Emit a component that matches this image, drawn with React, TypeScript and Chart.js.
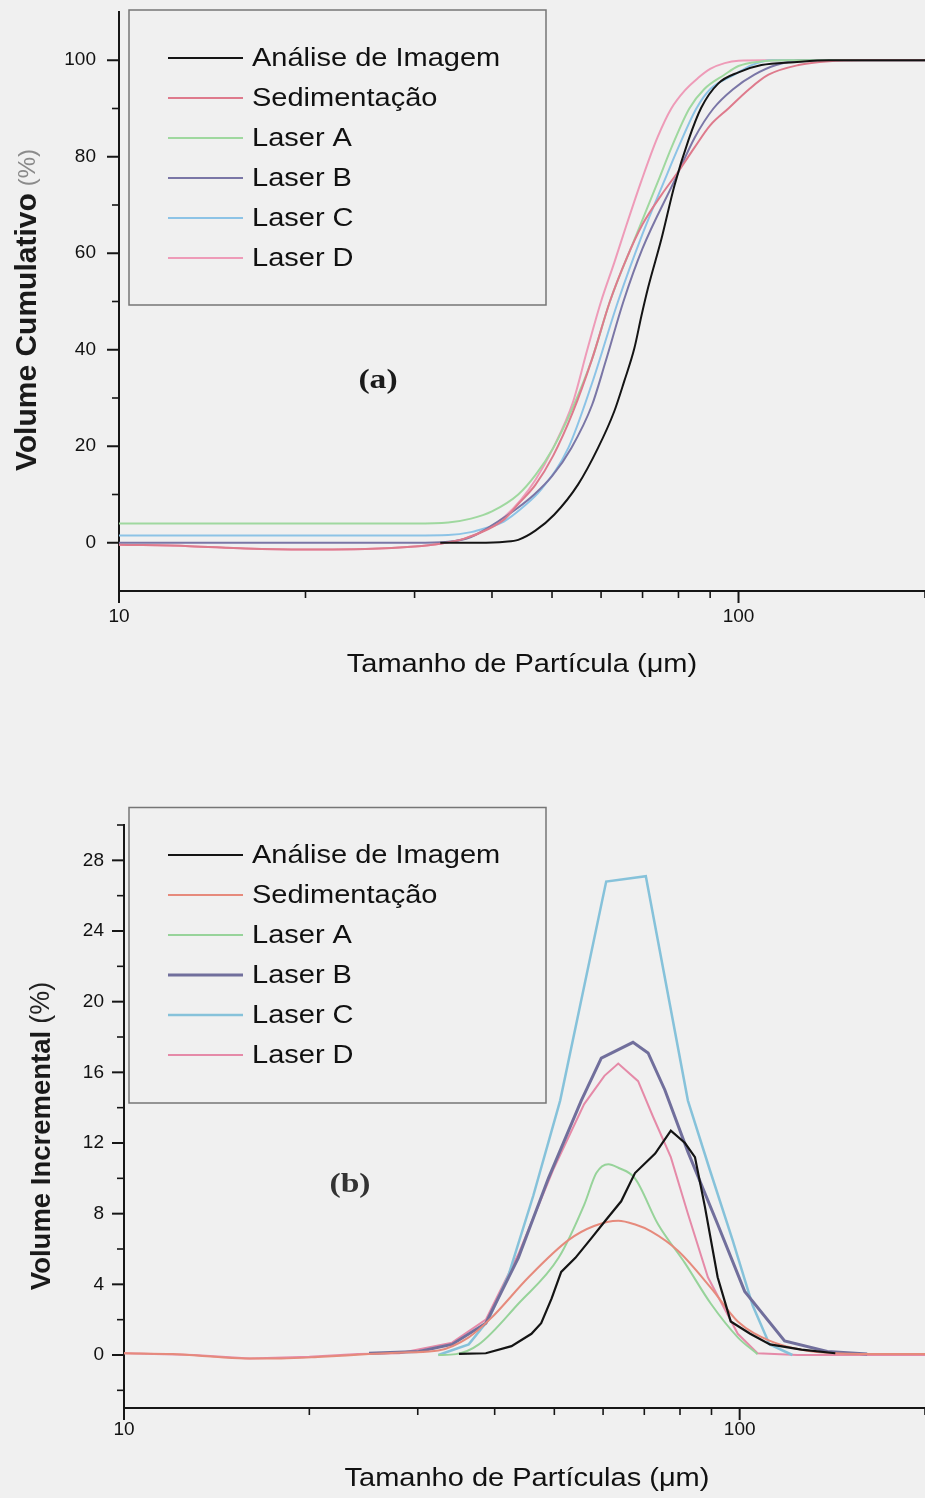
import React, { useEffect, useRef } from 'react';
import { Chart, registerables } from 'chart.js';

Chart.register(...registerables);

const FONT = '"Liberation Sans", Arial, Helvetica, sans-serif';
const SERIF = '"Liberation Serif", "Times New Roman", Times, serif';
const TEXT_STRETCH = 1.16;
const AXIS_COLOR = '#161616';
const PAGE_BG = '#f0f0f0';

const seriesLabels = ['Análise de Imagem', 'Sedimentação', 'Laser A', 'Laser B', 'Laser C', 'Laser D'];

// Particle size axis (µm, logarithmic)
const sizeMajorTicks = [10, 100];
const sizeMinorTicks = [20, 30, 40, 50, 60, 70, 80, 90, 200];

// (a) cumulative volume axis
const cumMajorTicks = [0, 20, 40, 60, 80, 100];
const cumMinorTicks = [10, 30, 50, 70, 90];

// (b) incremental volume axis
const incMajorTicks = [0, 4, 8, 12, 16, 20, 24, 28];
const incMinorTicks = [-2, 2, 6, 10, 14, 18, 22, 26, 30];

// ---------- (a) Volume Cumulativo (%) ----------
const cumImagemSize = [33, 38, 42, 44.1, 47, 50.4, 55.1, 59.3, 63, 65.4, 67.9, 69.7, 71.5, 75.1, 78.8, 83, 87.1, 92.8, 100, 108.9, 123, 140, 200];
const cumImagemVol = [0, 0, 0.2, 0.6, 2.5, 5.8, 12.1, 19.6, 27.2, 33.5, 40.3, 47, 53, 63, 74, 83.4, 90.2, 95.2, 97.5, 99, 99.6, 100, 100];

const cumSedSize = [10, 13, 16, 20, 25, 30, 33, 36, 39.4, 42, 44.1, 47, 50.2, 54, 58, 62, 66, 70, 75, 80, 85, 90, 96.3, 104, 111.8, 125, 140, 160, 200];
const cumSedVol = [-0.4, -0.7, -1.2, -1.4, -1.3, -0.8, -0.2, 0.8, 2.8, 5, 8, 12, 18, 27, 38, 50, 59, 66, 72, 77, 82, 86.5, 90, 94, 97, 99, 99.8, 100, 100];

const cumLaserASize = [10, 20, 30, 34, 37, 40, 44.1, 47, 50.2, 54, 58, 62, 68, 74.2, 78, 83.3, 88, 94.9, 100, 108, 120, 200];
const cumLaserAVol = [4, 4, 4, 4.2, 5, 6.5, 10, 14, 19.6, 28, 38, 50, 63, 75, 82, 90, 94, 97, 98.8, 99.7, 100, 100];

const cumLaserBSize = [10, 20, 30, 34, 37, 40.9, 44, 46.8, 50, 53.7, 58, 61, 65.2, 70, 78.8, 85, 91.1, 98, 106.1, 115, 127, 200];
const cumLaserBVol = [0, 0, 0, 0.2, 1.2, 4.4, 7.2, 10, 13.8, 19.6, 28.5, 37.5, 50, 61, 75, 84, 90, 94, 97, 99, 100, 100];

const cumLaserCSize = [10, 20, 30, 34, 37, 39, 41.8, 45, 48, 53.1, 58, 63.9, 70, 75.9, 80, 85.5, 90, 98.5, 105, 113, 200];
const cumLaserCVol = [1.5, 1.5, 1.5, 1.6, 2.2, 3, 4.4, 7.5, 11, 19.6, 33, 50, 64, 75, 82, 90, 94, 97, 99, 100, 100];

const cumLaserDSize = [10, 13, 16, 20, 25, 30, 33, 36, 39.4, 42, 44.6, 47, 50.2, 54, 57, 60, 63, 66, 69.7, 74, 77.9, 82, 86, 90, 95, 100, 110, 200];
const cumLaserDVol = [-0.4, -0.7, -1.2, -1.4, -1.3, -0.8, -0.2, 0.8, 3, 5.5, 9, 13, 19.6, 29, 40, 50, 58, 66, 75, 84, 90, 93.8, 96.3, 98.2, 99.4, 99.9, 100, 100];

// ---------- (b) Volume Incremental (%) ----------
const incImagemSize = [35, 38.7, 42.6, 45.9, 47.6, 49.5, 51.3, 54.1, 57.4, 60.5, 64.2, 67.6, 72.9, 77.3, 81.5, 84.6, 87.8, 92.1, 96.7, 104, 112, 126, 143];
const incImagemVol = [0.06, 0.1, 0.5, 1.2, 1.8, 3.2, 4.7, 5.5, 6.6, 7.6, 8.7, 10.3, 11.4, 12.7, 12.0, 11.2, 8.4, 4.4, 1.9, 1.2, 0.6, 0.3, 0.1];

const incSedSize = [10, 12, 14, 16, 18, 21, 25, 29, 32.4, 36.3, 39.5, 45.4, 52.7, 58, 63.5, 67.5, 71.8, 79.4, 89.8, 99.3, 112, 126, 143, 180, 200];
const incSedVol = [0.1, 0.05, -0.1, -0.2, -0.2, -0.1, 0.05, 0.15, 0.25, 1.0, 2.1, 4.4, 6.5, 7.3, 7.6, 7.4, 7.0, 5.9, 3.8, 1.9, 0.8, 0.3, 0.1, 0.05, 0.05];

const incLaserASize = [32.4, 34.6, 37.7, 43.7, 50.8, 55.9, 58.5, 61.2, 63.5, 67.6, 73.7, 81.5, 89.8, 99.3, 106.9];
const incLaserAVol = [0, 0.05, 0.6, 2.9, 5.5, 8.5, 10.3, 10.8, 10.6, 10.0, 7.4, 5.2, 2.9, 1.0, 0.05];

const incLaserBSize = [25, 30.1, 34.1, 38.7, 43.7, 48.9, 55.3, 59.6, 67.1, 71.0, 75.6, 82.4, 92.1, 101.9, 118.3, 138.8, 161.1];
const incLaserBVol = [0.1, 0.2, 0.6, 1.8, 5.5, 10, 14.4, 16.8, 17.7, 17.1, 15, 11.5, 7.4, 3.6, 0.8, 0.2, 0.05];

const incLaserCSize = [32.4, 36.3, 39.1, 42.1, 46.2, 51.1, 60.7, 70.4, 82.4, 89.4, 97.4, 105, 111.8, 121.8];
const incLaserCVol = [0, 0.6, 2.0, 4.5, 9.0, 14.4, 26.8, 27.1, 14.4, 10.5, 6.5, 2.8, 0.6, 0];

const incLaserDSize = [10, 13, 16, 20, 24, 28, 34.1, 38.7, 43.7, 49.8, 55.9, 60.3, 63.5, 68.4, 72.3, 77.3, 82.4, 88.8, 99.3, 106.9, 124.1, 200];
const incLaserDVol = [0.1, 0, -0.2, -0.1, 0.05, 0.1, 0.7, 2.0, 5.7, 10.5, 14.2, 15.8, 16.5, 15.5, 13.5, 11.2, 8, 4.4, 1.2, 0.1, 0, 0];

const pts = (xs: number[], ys: number[]) => xs.map((x, i) => ({ x, y: ys[i] }));

type LineStyle = { color: string; width: number; smooth: boolean };

function buildDatasets(sizes: number[][], vols: number[][], styles: LineStyle[]) {
  return seriesLabels.map((label, i) => ({
    label,
    data: pts(sizes[i], vols[i]),
    borderColor: styles[i].color,
    backgroundColor: styles[i].color,
    borderWidth: styles[i].width,
    pointRadius: 0,
    fill: false,
    cubicInterpolationMode: styles[i].smooth ? ('monotone' as const) : ('default' as const),
    tension: 0,
  }));
}

type Decor = {
  yMajor: number[];
  yMinor: number[];
  xTitle: string;
  xTitleX: number;
  xTitleY: number;
  yTitle: string;
  yUnit: string;
  yTitleX: number;
  yTitleY: number;
  yTitleFont: string;
  yUnitFont: string;
  yUnitColor: string;
  box: { left: number; top: number; right: number; bottom: number };
  firstRow: number;
  tag: string;
  tagX: number;
  tagY: number;
  tagColor: string;
};

function drawWideText(ctx: CanvasRenderingContext2D, text: string, x: number, y: number, font: string, color: string, align: CanvasTextAlign, sx: number) {
  ctx.save();
  ctx.translate(x, y);
  ctx.scale(sx, 1);
  ctx.font = font;
  ctx.fillStyle = color;
  ctx.textAlign = align;
  ctx.textBaseline = 'middle';
  ctx.fillText(text, 0, 0);
  ctx.restore();
}

function decorPlugin(d: Decor) {
  return {
    id: 'panelDecor',
    afterDraw(chart: any) {
      const { ctx, chartArea } = chart;
      const xs = chart.scales.x;
      const ys = chart.scales.y;
      const seg = (x1: number, y1: number, x2: number, y2: number, w: number, c: string) => {
        ctx.beginPath();
        ctx.strokeStyle = c;
        ctx.lineWidth = w;
        ctx.moveTo(x1, y1);
        ctx.lineTo(x2, y2);
        ctx.stroke();
      };
      ctx.save();
      ctx.lineCap = 'butt';

      // tick marks on both axes
      for (const v of d.yMajor) {
        const p = ys.getPixelForValue(v);
        seg(chartArea.left - 12, p, chartArea.left, p, 2, AXIS_COLOR);
      }
      for (const v of d.yMinor) {
        const p = ys.getPixelForValue(v);
        seg(chartArea.left - 7, p, chartArea.left, p, 1.6, AXIS_COLOR);
      }
      for (const v of sizeMajorTicks) {
        const p = xs.getPixelForValue(v);
        seg(p, chartArea.bottom, p, chartArea.bottom + 12, 2, AXIS_COLOR);
      }
      for (const v of sizeMinorTicks) {
        const p = xs.getPixelForValue(v);
        seg(p, chartArea.bottom, p, chartArea.bottom + 7, 1.6, AXIS_COLOR);
      }

      // axis titles
      drawWideText(ctx, d.xTitle, d.xTitleX, d.xTitleY, `25px ${FONT}`, '#111', 'center', TEXT_STRETCH);

      ctx.save();
      ctx.translate(d.yTitleX, d.yTitleY);
      ctx.rotate(-Math.PI / 2);
      ctx.textBaseline = 'middle';
      ctx.textAlign = 'left';
      ctx.font = d.yTitleFont;
      const w1 = ctx.measureText(d.yTitle).width;
      ctx.font = d.yUnitFont;
      const w2 = ctx.measureText(d.yUnit).width;
      const gap = 7;
      const start = -(w1 + gap + w2) / 2;
      ctx.font = d.yTitleFont;
      ctx.fillStyle = '#1a1a1a';
      ctx.fillText(d.yTitle, start, 0);
      ctx.font = d.yUnitFont;
      ctx.fillStyle = d.yUnitColor;
      ctx.fillText(d.yUnit, start + w1 + gap, 0);
      ctx.restore();

      // framed legend
      const b = d.box;
      ctx.strokeStyle = '#767676';
      ctx.lineWidth = 1.5;
      ctx.strokeRect(b.left, b.top, b.right - b.left, b.bottom - b.top);
      chart.data.datasets.forEach((ds: any, i: number) => {
        const y = d.firstRow + i * 40;
        seg(168, y, 243, y, ds.borderWidth, ds.borderColor);
        drawWideText(ctx, ds.label, 252, y + 1, `25px ${FONT}`, '#111', 'left', TEXT_STRETCH);
      });

      // panel tag
      drawWideText(ctx, d.tag, d.tagX, d.tagY, `bold 28px ${SERIF}`, d.tagColor, 'center', 1.2);
      ctx.restore();
    },
  };
}

type PanelSpec = {
  padTop: number;
  yWidth: number;
  xHeight: number;
  yMin: number;
  yMax: number;
  yMajor: number[];
  xLabelPad: number;
  yLabelPad: number;
  datasets: any[];
  decor: Decor;
};

function createPanel(canvas: HTMLCanvasElement, p: PanelSpec) {
  return new Chart(canvas, {
    type: 'line',
    data: { datasets: p.datasets },
    options: {
      responsive: false,
      maintainAspectRatio: false,
      animation: false,
      events: [],
      layout: { padding: { top: p.padTop, right: 0, bottom: 0, left: 0 } },
      plugins: { legend: { display: false }, tooltip: { enabled: false } },
      elements: { point: { radius: 0 } },
      scales: {
        x: {
          type: 'logarithmic',
          min: 10,
          max: 200,
          position: 'bottom',
          grid: { display: false, drawTicks: false },
          border: { display: true, color: AXIS_COLOR, width: 2 },
          afterBuildTicks: (s: any) => {
            s.ticks = sizeMajorTicks.map((value) => ({ value }));
          },
          afterFit: (s: any) => {
            s.height = p.xHeight;
            s.paddingLeft = 0;
            s.paddingRight = 0;
          },
          ticks: {
            font: { family: FONT, size: 19 },
            color: '#111',
            padding: p.xLabelPad,
            maxRotation: 0,
            autoSkip: false,
            callback: (v: any) => String(v),
          },
        },
        y: {
          type: 'linear',
          min: p.yMin,
          max: p.yMax,
          grid: { display: false, drawTicks: false },
          border: { display: true, color: AXIS_COLOR, width: 2 },
          afterBuildTicks: (s: any) => {
            s.ticks = p.yMajor.map((value) => ({ value }));
          },
          afterFit: (s: any) => {
            s.width = p.yWidth;
            s.paddingTop = 0;
            s.paddingBottom = 0;
          },
          ticks: {
            font: { family: FONT, size: 19 },
            color: '#111',
            padding: p.yLabelPad,
            autoSkip: false,
            callback: (v: any) => String(v),
          },
        },
      },
    },
    plugins: [decorPlugin(p.decor)],
  } as any);
}

const cumStyles: LineStyle[] = [
  { color: '#141414', width: 2, smooth: true },
  { color: '#de7a8c', width: 2, smooth: true },
  { color: '#9fd89f', width: 2, smooth: true },
  { color: '#7a76a6', width: 2, smooth: true },
  { color: '#8cc3e6', width: 2, smooth: true },
  { color: '#ee9bb8', width: 2, smooth: true },
];

const incStyles: LineStyle[] = [
  { color: '#141414', width: 2.2, smooth: false },
  { color: '#e68a7c', width: 2, smooth: true },
  { color: '#97d39a', width: 2, smooth: true },
  { color: '#716f9c', width: 3, smooth: false },
  { color: '#86c2da', width: 2.5, smooth: false },
  { color: '#e58aa8', width: 2, smooth: false },
];

export default function App() {
  const cumRef = useRef<HTMLCanvasElement>(null);
  const incRef = useRef<HTMLCanvasElement>(null);

  useEffect(() => {
    if (!cumRef.current || !incRef.current) return;

    const cumChart = createPanel(cumRef.current, {
      padTop: 12,
      yWidth: 119,
      xHeight: 109,
      yMin: -10,
      yMax: 110,
      yMajor: cumMajorTicks,
      xLabelPad: 14.6,
      yLabelPad: 23,
      datasets: buildDatasets(
        [cumImagemSize, cumSedSize, cumLaserASize, cumLaserBSize, cumLaserCSize, cumLaserDSize],
        [cumImagemVol, cumSedVol, cumLaserAVol, cumLaserBVol, cumLaserCVol, cumLaserDVol],
        cumStyles
      ),
      decor: {
        yMajor: cumMajorTicks,
        yMinor: cumMinorTicks,
        xTitle: 'Tamanho de Partícula (μm)',
        xTitleX: 522,
        xTitleY: 665,
        yTitle: 'Volume Cumulativo',
        yUnit: '(%)',
        yTitleX: 28,
        yTitleY: 310,
        yTitleFont: `bold 30px ${FONT}`,
        yUnitFont: `24px ${FONT}`,
        yUnitColor: '#8a8a8a',
        box: { left: 129, top: 10, right: 546, bottom: 305 },
        firstRow: 58,
        tag: '(a)',
        tagX: 378,
        tagY: 381,
        tagColor: '#1a1a1a',
      },
    });

    const incChart = createPanel(incRef.current, {
      padTop: 65,
      yWidth: 124,
      xHeight: 90,
      yMin: -3,
      yMax: 30,
      yMajor: incMajorTicks,
      xLabelPad: 10.6,
      yLabelPad: 20,
      datasets: buildDatasets(
        [incImagemSize, incSedSize, incLaserASize, incLaserBSize, incLaserCSize, incLaserDSize],
        [incImagemVol, incSedVol, incLaserAVol, incLaserBVol, incLaserCVol, incLaserDVol],
        incStyles
      ),
      decor: {
        yMajor: incMajorTicks,
        yMinor: incMinorTicks,
        xTitle: 'Tamanho de Partículas (μm)',
        xTitleX: 527,
        xTitleY: 719,
        yTitle: 'Volume Incremental',
        yUnit: '(%)',
        yTitleX: 42,
        yTitleY: 376,
        yTitleFont: `bold 27.5px ${FONT}`,
        yUnitFont: `27px ${FONT}`,
        yUnitColor: '#222',
        box: { left: 129, top: 47.5, right: 546, bottom: 343 },
        firstRow: 95,
        tag: '(b)',
        tagX: 350,
        tagY: 425,
        tagColor: '#333',
      },
    });

    return () => {
      cumChart.destroy();
      incChart.destroy();
    };
  }, []);

  return (
    <div style={{ position: 'absolute', left: 0, top: 0, width: 925, height: 1498, background: PAGE_BG, overflow: 'hidden' }}>
      <canvas ref={cumRef} width={925} height={700} style={{ position: 'absolute', left: 0, top: 0, width: 925, height: 700 }} />
      <canvas ref={incRef} width={925} height={738} style={{ position: 'absolute', left: 0, top: 760, width: 925, height: 738 }} />
    </div>
  );
}
